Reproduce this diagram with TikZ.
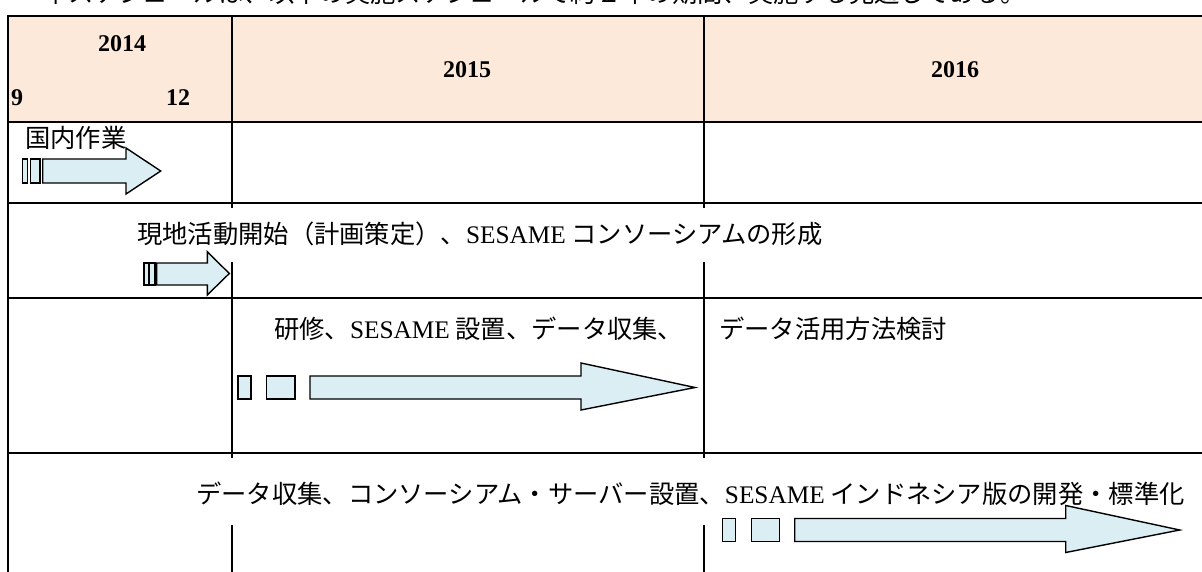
\documentclass[tikz,border=0pt]{standalone}
\usepackage{fontspec}
\setmainfont{Noto Sans CJK JP}
\newfontfamily\tnr{Liberation Serif}
\definecolor{hdr}{HTML}{FCE9DA}
\definecolor{arr}{HTML}{DAEEF3}
\tikzset{
  grid/.style={line width=2pt, line cap=rect},
  arrbody/.style={draw=black, fill=arr, line width=1.4pt, line join=miter},
  jtext/.style={inner sep=0pt, font=\fontsize{25.3}{30}\selectfont},
  yr/.style={inner sep=0pt, font=\tnr\bfseries\fontsize{24}{28}\selectfont},
}
\begin{document}
\begin{tikzpicture}[x=1pt,y=-1pt]
\useasboundingbox (0,0) rectangle (1202,572);
% clipped line of text above the table
\begin{scope}
\clip (0,0) rectangle (1202,8);
\node[jtext, anchor=base west] (intro) at (43,3) {本スケジュールは、以下の実施スケジュールで約２年の期間、実施する見通しである。};
\end{scope}
% header
\fill[hdr] (8,16) rectangle (1203,122);
\node[yr] (y14) at (122,44) {2014};
\node[yr] (m9) at (17,98) {9};
\node[yr] (m12) at (178,98) {12};
\node[yr] (y15) at (467,70) {2015};
\node[yr] (y16) at (955,70) {2016};
% grid
\draw[grid] (8,16) -- (1203,16);
\draw[grid] (8,122) -- (1203,122);
\draw[grid] (8,203) -- (1203,203);
\draw[grid] (8,298) -- (1203,298);
\draw[grid] (8,453) -- (1203,453);
\draw[grid] (8,16) -- (8,573);
\foreach \cx in {232,704} {
  \draw[grid] (\cx,16) -- (\cx,207);
  \draw[grid] (\cx,263) -- (\cx,457);
  \draw[grid] (\cx,526) -- (\cx,573);
}
% texts
\node[jtext, anchor=west] (t1) at (25,138) {国内作業};
\node[jtext, anchor=west] (t2) at (137,234) {現地活動開始（計画策定）、{\tnr SESAME} コンソーシアムの形成};
\node[jtext, anchor=west] (t3) at (274,329) {研修、{\tnr SESAME} 設置、データ収集、};
\node[jtext, anchor=west] (t3b) at (719,329) {データ活用方法検討};
\node[jtext, anchor=west] (t4) at (196,494) {データ収集、コンソーシアム・サーバー設置、{\tnr SESAME} インドネシア版の開発・標準化};
% arrow 1
\draw[arrbody] (22.5,159) rectangle (27.5,183);
\draw[arrbody] (30.5,159) rectangle (40,183);
\draw[arrbody] (42.7,159) -- (126,159) -- (126,148) -- (160.7,171) -- (126,194) -- (126,183) -- (42.7,183) -- cycle;
% arrow 2
\draw[arrbody] (144,263) rectangle (148.3,285);
\draw[arrbody] (149.5,263) rectangle (155,285);
\draw[arrbody] (156.7,263) -- (207.3,263) -- (207.3,251.7) -- (229.3,273.5) -- (207.3,295) -- (207.3,285) -- (156.7,285) -- cycle;
% arrow 3
\draw[arrbody] (238,376) rectangle (251,399);
\draw[arrbody] (266.7,376) rectangle (295,399);
\draw[arrbody] (310,376) -- (581,376) -- (581,363) -- (695,387.5) -- (581,410) -- (581,399) -- (310,399) -- cycle;
% arrow 4
\begin{scope}[shift={(484.7,142.5)}]
\draw[arrbody] (238,376) rectangle (251,399);
\draw[arrbody] (266.7,376) rectangle (295,399);
\draw[arrbody] (310,376) -- (581,376) -- (581,363) -- (695,387.5) -- (581,410) -- (581,399) -- (310,399) -- cycle;
\end{scope}
\end{tikzpicture}
\end{document}
